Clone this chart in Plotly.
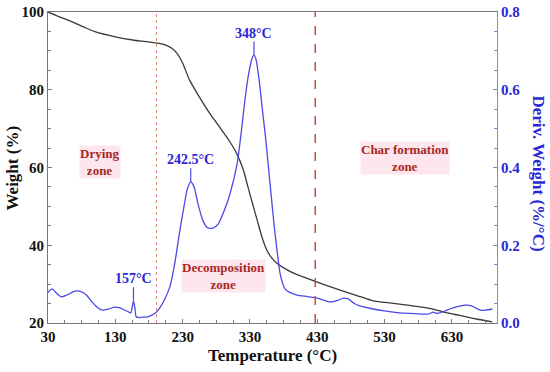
import plotly.graph_objects as go

# Weight (%) curve (TGA)
temp_w = [30, 45, 67, 85, 102, 130, 156, 175, 192, 205, 214, 222, 230, 240, 255, 270, 285, 298, 310, 320, 327, 335, 342, 348, 355, 362, 370, 382, 394, 410, 430, 450, 474, 490, 513, 540, 564, 585, 602, 623, 640, 653, 670, 690]
weight = [100, 98.9, 97.4, 96.0, 94.8, 93.6, 92.8, 92.4, 92.0, 91.5, 90.7, 89.3, 86.9, 82.6, 78.1, 74.0, 70.4, 67.2, 63.7, 59.5, 55.0, 50.0, 45.7, 42.0, 38.8, 36.8, 35.4, 34.0, 32.9, 31.8, 30.5, 29.3, 27.9, 27.0, 25.7, 25.1, 24.6, 24.1, 23.6, 22.6, 22.0, 21.5, 20.9, 20.3]

# Derivative weight (%/°C) curve (DTG)
temp_d = [30, 33, 37, 42, 50, 58, 70, 80, 87, 95, 104, 111, 120, 129, 137, 144, 150, 153, 155, 157, 159, 161, 165, 170, 178, 185, 191, 196, 203, 211, 218, 226, 232, 237, 242, 247, 253, 260, 267, 275, 283, 292, 300, 311, 317, 323, 328, 333, 336, 339, 344, 348, 353, 357, 362, 366, 370, 375, 382, 390, 400, 415, 430, 449, 460, 469, 476, 485, 493, 513, 530, 553, 575, 595, 602, 607, 612, 620, 627, 638, 650, 658, 665, 672, 680, 690]
deriv = [0.078, 0.085, 0.087, 0.078, 0.067, 0.072, 0.082, 0.080, 0.072, 0.055, 0.039, 0.033, 0.036, 0.041, 0.039, 0.033, 0.028, 0.026, 0.040, 0.057, 0.040, 0.016, 0.014, 0.015, 0.016, 0.021, 0.028, 0.039, 0.060, 0.093, 0.150, 0.239, 0.300, 0.345, 0.363, 0.350, 0.305, 0.264, 0.245, 0.244, 0.255, 0.290, 0.330, 0.410, 0.490, 0.580, 0.640, 0.680, 0.689, 0.678, 0.620, 0.556, 0.480, 0.410, 0.320, 0.250, 0.190, 0.125, 0.088, 0.078, 0.072, 0.068, 0.064, 0.054, 0.058, 0.064, 0.062, 0.050, 0.044, 0.036, 0.031, 0.026, 0.024, 0.023, 0.028, 0.025, 0.026, 0.031, 0.036, 0.042, 0.046, 0.045, 0.039, 0.033, 0.033, 0.036]

# Peak markers: temperature position, peak DTG value, label
peak_temps = [157, 242, 336]
peak_values = [0.057, 0.363, 0.689]
peak_labels = ["157°C", "242.5°C", "348°C"]

# Zone boundaries and labels
zone_bounds = [191, 427]
zone_label_temps = [107, 291, 560]
zone_label_weights = [61.5, 32.0, 62.5]
zone_labels = ["Drying<br>zone", "Decomposition<br>zone", "Char formation<br>zone"]

x_ticks = [30, 130, 230, 330, 430, 530, 630]
y_ticks = [20, 40, 60, 80, 100]
y2_ticks = [0.0, 0.2, 0.4, 0.6, 0.8]

SERIF = "Liberation Serif"
BLUE = "#2828d8"
LINEBLUE = "#4a4ae6"
ZONE_RED = "#a8281e"

fig = go.Figure()
fig.add_trace(go.Scatter(x=temp_w, y=weight, mode="lines", line=dict(color="#3a3a3a", width=1.3, shape="spline", smoothing=0.6), showlegend=False))
fig.add_trace(go.Scatter(x=temp_d, y=deriv, mode="lines", yaxis="y2", line=dict(color=LINEBLUE, width=1.3, shape="spline", smoothing=0.6), showlegend=False))

shapes = []
shapes.append(dict(type="line", xref="x", yref="paper", x0=zone_bounds[0], x1=zone_bounds[0], y0=0, y1=1, line=dict(color="#e08070", width=1, dash="dot")))
shapes.append(dict(type="line", xref="x", yref="paper", x0=zone_bounds[1], x1=zone_bounds[1], y0=0, y1=1, line=dict(color="#c0503a", width=1.5, dash="dash")))
for t, v in zip(peak_temps, peak_values):
    shapes.append(dict(type="line", xref="x", yref="y2", x0=t, x1=t, y0=v, y1=v + 0.035, line=dict(color=LINEBLUE, width=1.2)))

annotations = []
for t, v, lab in zip(peak_temps, peak_values, peak_labels):
    annotations.append(dict(x=t, y=v + 0.035, xref="x", yref="y2", text="<b>" + lab + "</b>", showarrow=False, yanchor="bottom", yshift=-1, font=dict(family=SERIF, size=14, color=BLUE)))
for t, w, lab in zip(zone_label_temps, zone_label_weights, zone_labels):
    annotations.append(dict(x=t, y=w, xref="x", yref="y", text="<b>" + lab + "</b>", showarrow=False, bgcolor="#fde6ee", borderpad=0, font=dict(family=SERIF, size=13, color=ZONE_RED)))
annotations.append(dict(x=0.5, y=-0.105, xref="paper", yref="paper", text="<b>Temperature (°C)</b>", showarrow=False, yanchor="middle", font=dict(family=SERIF, size=17, color="#111")))
annotations.append(dict(x=-0.078, y=0.5, xref="paper", yref="paper", text="<b>Weight (%)</b>", showarrow=False, textangle=-90, xanchor="center", font=dict(family=SERIF, size=17, color="#111")))
annotations.append(dict(x=1.092, y=0.48, xref="paper", yref="paper", text="<b>Deriv. Weight (%/°C)</b>", showarrow=False, textangle=90, xanchor="center", font=dict(family=SERIF, size=17, color=BLUE)))

fig.update_layout(
    width=550, height=372,
    margin=dict(l=48, r=53, t=12, b=49, autoexpand=False),
    paper_bgcolor="white", plot_bgcolor="white",
    shapes=shapes, annotations=annotations,
    xaxis=dict(range=[30, 697], tickvals=x_ticks, ticktext=[str(v) for v in x_ticks], automargin=False,
               showgrid=False, zeroline=False, showline=True, linecolor="#777", linewidth=1, mirror=True,
               ticks="inside", ticklen=4, tickcolor="#777",
               minor=dict(dtick=25, tick0=30, ticks="inside", ticklen=3, tickcolor="#777"),
               tickfont=dict(family=SERIF, size=15, color="#111", weight="bold")),
    yaxis=dict(range=[20, 100], tickvals=y_ticks, showgrid=False, zeroline=False, automargin=False,
               showline=True, linecolor="#777", linewidth=1,
               ticks="inside", ticklen=4, tickcolor="#777",
               minor=dict(dtick=5, tick0=20, ticks="inside", ticklen=3, tickcolor="#777"),
               tickfont=dict(family=SERIF, size=15, color="#111", weight="bold")),
    yaxis2=dict(range=[0, 0.8], overlaying="y", side="right", tickvals=y2_ticks, automargin=False,
                ticktext=["%.1f" % v for v in y2_ticks], showgrid=False, zeroline=False,
                showline=True, linecolor="#8080ee", linewidth=1,
                ticks="inside", ticklen=4, tickcolor="#8080ee",
                minor=dict(dtick=0.05, tick0=0, ticks="inside", ticklen=3, tickcolor="#8080ee"),
                tickfont=dict(family=SERIF, size=15, color=BLUE, weight="bold")),
)

fig.write_html("out.html", config={"displayModeBar": False},
               post_script="document.body.style.margin='0';document.body.style.overflow='hidden';")
